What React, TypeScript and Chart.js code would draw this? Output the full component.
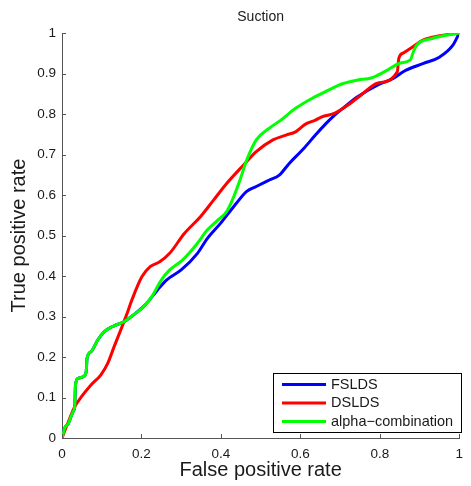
import React, { useEffect, useRef } from "react";
import { Chart, registerables } from "chart.js";

Chart.register(...registerables);

const titleText = "Suction";
const xAxisTitle = "False positive rate";
const yAxisTitle = "True positive rate";
const xTickValues = [0, 0.2, 0.4, 0.6, 0.8, 1];
const xTickLabels = ["0", "0.2", "0.4", "0.6", "0.8", "1"];
const yTickValues = [0, 0.1, 0.2, 0.3, 0.4, 0.5, 0.6, 0.7, 0.8, 0.9, 1];
const yTickLabels = ["0", "0.1", "0.2", "0.3", "0.4", "0.5", "0.6", "0.7", "0.8", "0.9", "1"];

const seriesNames = ["FSLDS", "DSLDS", "alpha\u2212combination"];
const seriesColors = ["#0000ff", "#ff0000", "#00ff00"];

const fsldsX = [0, 0.007, 0.016, 0.028, 0.032, 0.034, 0.040, 0.053, 0.061, 0.063, 0.073, 0.090, 0.106, 0.131, 0.156, 0.180, 0.209, 0.240, 0.263, 0.300, 0.341, 0.366, 0.399, 0.432, 0.465, 0.489, 0.522, 0.547, 0.572, 0.605, 0.638, 0.663, 0.687, 0.712, 0.745, 0.794, 0.836, 0.860, 0.910, 0.951, 0.984, 1.0];
const fsldsY = [0, 0.025, 0.036, 0.065, 0.077, 0.131, 0.147, 0.151, 0.164, 0.197, 0.213, 0.242, 0.262, 0.277, 0.287, 0.304, 0.328, 0.365, 0.390, 0.415, 0.456, 0.493, 0.530, 0.571, 0.609, 0.621, 0.637, 0.649, 0.678, 0.711, 0.748, 0.775, 0.798, 0.818, 0.843, 0.871, 0.889, 0.905, 0.925, 0.941, 0.970, 1.0];

const dsldsX = [0, 0.016, 0.032, 0.049, 0.073, 0.098, 0.115, 0.131, 0.148, 0.164, 0.176, 0.201, 0.222, 0.246, 0.271, 0.308, 0.349, 0.382, 0.415, 0.457, 0.489, 0.531, 0.564, 0.588, 0.613, 0.638, 0.654, 0.687, 0.720, 0.753, 0.794, 0.844, 0.848, 0.860, 0.885, 0.910, 0.951, 1.0];
const dsldsY = [0, 0.040, 0.077, 0.102, 0.131, 0.156, 0.184, 0.225, 0.267, 0.308, 0.341, 0.398, 0.423, 0.435, 0.456, 0.505, 0.547, 0.588, 0.629, 0.674, 0.707, 0.736, 0.748, 0.756, 0.775, 0.785, 0.793, 0.802, 0.822, 0.847, 0.876, 0.904, 0.938, 0.951, 0.967, 0.983, 0.993, 1.0];

const alphaX = [0, 0.007, 0.016, 0.028, 0.032, 0.034, 0.040, 0.053, 0.061, 0.063, 0.073, 0.090, 0.106, 0.131, 0.156, 0.180, 0.209, 0.226, 0.250, 0.271, 0.304, 0.341, 0.366, 0.389, 0.415, 0.432, 0.448, 0.465, 0.489, 0.522, 0.551, 0.588, 0.630, 0.671, 0.704, 0.745, 0.778, 0.811, 0.852, 0.877, 0.885, 0.893, 0.934, 0.970, 1.0];
const alphaY = [0, 0.025, 0.036, 0.065, 0.077, 0.131, 0.147, 0.151, 0.164, 0.197, 0.213, 0.242, 0.262, 0.277, 0.287, 0.304, 0.328, 0.349, 0.390, 0.415, 0.440, 0.481, 0.514, 0.535, 0.560, 0.595, 0.637, 0.686, 0.736, 0.765, 0.785, 0.814, 0.839, 0.859, 0.874, 0.884, 0.889, 0.904, 0.926, 0.934, 0.955, 0.970, 0.987, 0.995, 1.0];

const toPoints = (xs: number[], ys: number[]) => xs.map((x, i) => ({ x, y: ys[i] }));

const FONT = "'Liberation Sans', Arial, Helvetica, sans-serif";
const AXIS_COLOR = "#555555";
const TEXT_COLOR = "#1a1a1a";

const matlabPlugin = {
  id: "matlabDecor",
  afterDraw(chart: any) {
    const { ctx, chartArea, scales } = chart;
    const xs = scales.x;
    const ys = scales.y;
    ctx.save();
    // inward ticks
    ctx.strokeStyle = AXIS_COLOR;
    ctx.lineWidth = 1;
    ctx.beginPath();
    xTickValues.forEach((v) => {
      const px = Math.round(xs.getPixelForValue(v)) + 0.5;
      ctx.moveTo(px, chartArea.bottom);
      ctx.lineTo(px, chartArea.bottom - 4);
    });
    yTickValues.forEach((v) => {
      const py = Math.round(ys.getPixelForValue(v)) + 0.5;
      ctx.moveTo(chartArea.left, py);
      ctx.lineTo(chartArea.left + 4, py);
    });
    ctx.stroke();
    // title
    ctx.fillStyle = TEXT_COLOR;
    ctx.font = `14px ${FONT}`;
    ctx.textAlign = "center";
    ctx.textBaseline = "middle";
    ctx.fillText(titleText, (chartArea.left + chartArea.right) / 2, 17);
    // legend
    const bx = 273, by = 373, bw = 188, bh = 59;
    ctx.fillStyle = "#ffffff";
    ctx.fillRect(bx, by, bw, bh);
    ctx.strokeStyle = "#000000";
    ctx.lineWidth = 1;
    ctx.strokeRect(bx + 0.5, by + 0.5, bw, bh);
    ctx.font = `14.5px ${FONT}`;
    ctx.textAlign = "left";
    chart.data.datasets.forEach((ds: any, i: number) => {
      const y = by + 11.5 + i * 18.5;
      ctx.strokeStyle = ds.borderColor;
      ctx.lineWidth = 3;
      ctx.beginPath();
      ctx.moveTo(bx + 9, y);
      ctx.lineTo(bx + 53, y);
      ctx.stroke();
      ctx.fillStyle = TEXT_COLOR;
      ctx.fillText(ds.label, bx + 58, y);
    });
    ctx.restore();
  },
};

export default function App() {
  const ref = useRef<HTMLCanvasElement | null>(null);
  useEffect(() => {
    if (!ref.current) return;
    const seriesX = [fsldsX, dsldsX, alphaX];
    const seriesY = [fsldsY, dsldsY, alphaY];
    const chart = new Chart(ref.current, {
      type: "line",
      data: {
        datasets: seriesNames.map((name, i) => ({
          label: name,
          data: toPoints(seriesX[i], seriesY[i]),
          borderColor: seriesColors[i],
          backgroundColor: seriesColors[i],
          borderWidth: 3,
          pointRadius: 0,
          cubicInterpolationMode: "monotone" as const,
          fill: false,
          order: 3 - i,
          borderJoinStyle: "round" as const,
          borderCapStyle: "round" as const,
        })),
      },
      options: {
        animation: false,
        responsive: false,
        maintainAspectRatio: false,
        devicePixelRatio: 1,
        layout: { padding: { top: 33, right: 5, left: 0, bottom: 0 } },
        plugins: {
          legend: { display: false },
          title: { display: false },
          tooltip: { enabled: false },
        },
        scales: {
          x: {
            type: "linear",
            min: 0,
            max: 1,
            afterFit: (s: any) => { s.height = 48; },
            afterBuildTicks: (s: any) => { s.ticks = xTickValues.map((v) => ({ value: v })); },
            grid: { display: false, drawTicks: false },
            border: { display: true, color: AXIS_COLOR, width: 1 },
            ticks: {
              padding: 8,
              color: TEXT_COLOR,
              font: { family: FONT, size: 13.5 },
              maxRotation: 0,
              callback: (v: any) => {
                const i = xTickValues.findIndex((t) => Math.abs(t - v) < 1e-6);
                return i >= 0 ? xTickLabels[i] : "";
              },
            },
            title: {
              display: true,
              text: xAxisTitle,
              color: TEXT_COLOR,
              font: { family: FONT, size: 20 },
              padding: { top: 0, bottom: 4 },
            },
          },
          y: {
            type: "linear",
            min: 0,
            max: 1,
            afterFit: (s: any) => { s.width = 62; },
            afterBuildTicks: (s: any) => { s.ticks = yTickValues.map((v) => ({ value: v })); },
            grid: { display: false, drawTicks: false },
            border: { display: true, color: AXIS_COLOR, width: 1 },
            ticks: {
              padding: 6,
              color: TEXT_COLOR,
              font: { family: FONT, size: 13.5 },
              callback: (v: any) => {
                const i = yTickValues.findIndex((t) => Math.abs(t - v) < 1e-6);
                return i >= 0 ? yTickLabels[i] : "";
              },
            },
            title: {
              display: true,
              text: yAxisTitle,
              color: TEXT_COLOR,
              font: { family: FONT, size: 20 },
              padding: { top: 7, bottom: 0 },
            },
          },
        },
      },
      plugins: [matlabPlugin],
    });
    return () => chart.destroy();
  }, []);
  return (
    <div style={{ position: "fixed", left: 0, top: 0, width: 471, height: 486, background: "#ffffff" }}>
      <canvas ref={ref} width={471} height={486} style={{ width: 471, height: 486, display: "block" }} />
    </div>
  );
}
